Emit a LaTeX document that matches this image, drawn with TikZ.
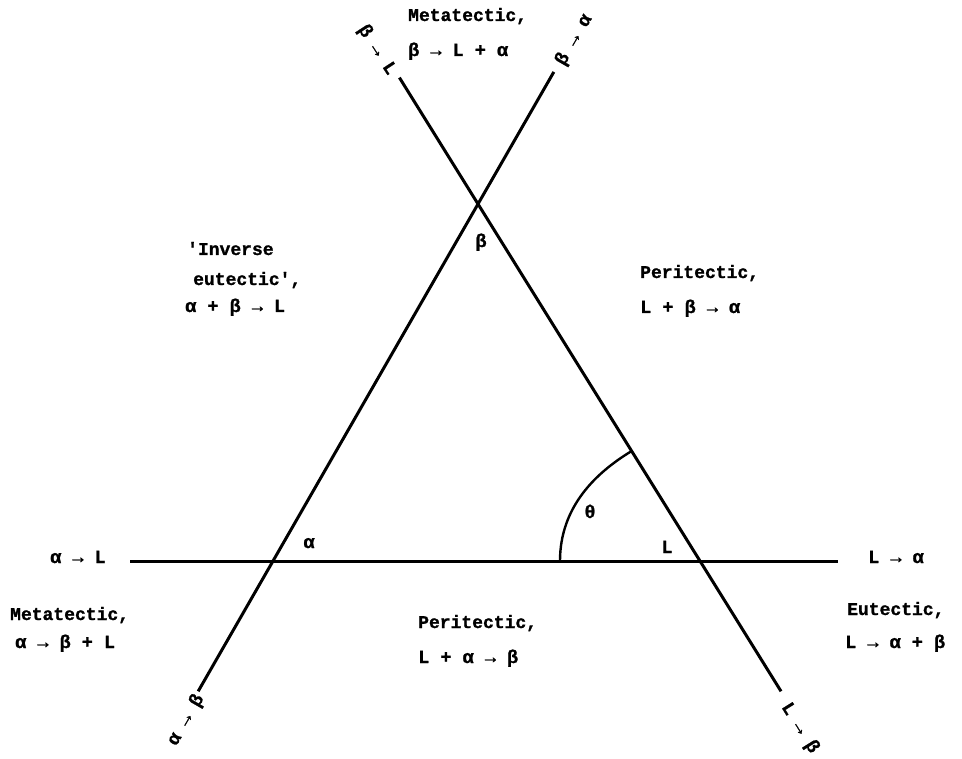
\documentclass[tikz,border=0pt]{standalone}
\usepackage{fontspec}
\setmainfont{Liberation Mono}[BoldFeatures={FakeBold=1.2}]
\usetikzlibrary{calc}
\begin{document}
\begin{tikzpicture}[x=1pt,y=-1pt,
  phase/.style={line width=3pt},
  arcline/.style={line width=2.4pt},
  lbl/.style={inner sep=0pt, anchor=base west, font=\fontsize{18.5}{20}\selectfont\bfseries},
  word/.style={inner sep=0pt, anchor=base west, font=\fontsize{18}{20}\selectfont\bfseries},
  ptlabel/.style={inner sep=0pt, anchor=base, font=\fontsize{18.5}{20}\selectfont\bfseries},
  rot/.style={inner sep=0pt, anchor=center, font=\fontsize{18.5}{20}\selectfont\bfseries}
]
\useasboundingbox (0,0) rectangle (962,759);
% intersection points
\coordinate (A) at (273,561);
\coordinate (B) at (478,204);
\coordinate (C) at (700,561);
% line ends
\coordinate (hl) at (130,561);
\coordinate (hr) at (838,561);
\coordinate (l1) at ($(A)!-0.365!(B)$);
\coordinate (l2) at ($(A)!1.37!(B)$);
\coordinate (r1) at ($(B)!-0.354!(C)$);
\coordinate (r2) at ($(B)!1.365!(C)$);
\draw[phase] (hl) -- (hr);
\draw[phase] (l1) -- (l2);
\draw[phase] (r1) -- (r2);
% angle arc
\coordinate (t1) at (560,561);
\coordinate (t2) at ($(B)!0.692!(C)$);
\draw[arcline] (t1) .. controls (560,506) and (597,472) .. (t2);
% inner labels
\node[ptlabel] (la) at (309,548) {α};
\node[ptlabel] (lb) at (481,247) {β};
\node[ptlabel] (lL) at (667,553) {L};
\node[ptlabel] (lt) at (590,518) {θ};
% top
\node[word] (t1w) at (408,21) {Metatectic,};
\node[lbl] (t1f) at (408,56) {β → L + α};
% left upper
\node[word] (iw1) at (187,255) {\textquotesingle Inverse};
\node[word] (iw2) at (193,285) {eutectic\textquotesingle,};
\node[lbl] (if) at (185,312) {α + β → L};
% right upper
\node[word] (pw1) at (640,278) {Peritectic,};
\node[lbl] (pf1) at (640,313) {L + β → α};
% horizontal line ends
\node[lbl] (aL) at (50,563) {α →  L};
\node[lbl] (La) at (868,563) {L → α};
% bottom left
\node[word] (mw) at (10,620) {Metatectic,};
\node[lbl] (mf) at (15,648) {α → β + L};
% bottom middle
\node[word] (pw2) at (418,628) {Peritectic,};
\node[lbl] (pf2) at (418,663) {L + α → β};
% bottom right
\node[word] (ew) at (847,615) {Eutectic,};
\node[lbl] (ef) at (845,648) {L → α + β};
% rotated line-end labels
\node[rot, rotate=-57] (rbL) at (377,50) {β → L};
\node[rot, rotate=60] (rba) at (574,40) {β → α};
\node[rot, rotate=60] (rab) at (186,720) {α → β};
\node[rot, rotate=-58] (rLb) at (800,728) {L → β};
\end{tikzpicture}
\end{document}
